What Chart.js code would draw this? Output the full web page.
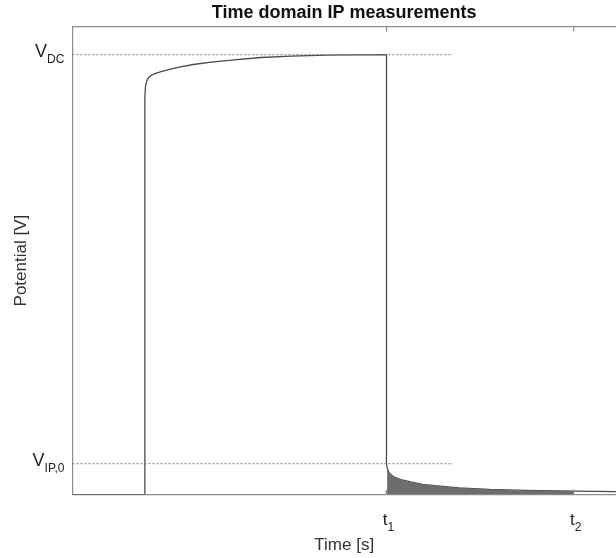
<!DOCTYPE html>
<html>
<head>
<meta charset="utf-8">
<script src="https://cdn.jsdelivr.net/npm/chart.js@4"></script>
<style>
  html, body { margin: 0; padding: 0; background: #fff; overflow: hidden; }
</style>
</head>
<body>
<canvas id="ipChart" width="616" height="558"></canvas>
<script>
// on-time: current switched on at 0.6 s, potential builds up towards V_DC
var onTime      = [0, 0.6, 0.6,  0.605, 0.615, 0.63,  0.66,  0.7,   0.78,  0.875, 1.0,   1.15,  1.34,  1.56,  1.81,  2.1,   2.6];
var onPotential = [0, 0,   0.85, 0.872, 0.884, 0.891, 0.897, 0.901, 0.907, 0.913, 0.919, 0.924, 0.929, 0.934, 0.937, 0.939, 0.94];
// off-time: current switched off at t1, IP decay
var offTime      = [2.6,  2.6,   2.605, 2.615, 2.63,  2.66,  2.72,  2.8,   2.9,   3.0,   3.2,    3.45,  3.75,  4.15,   4.5];
var offPotential = [0.94, 0.066, 0.058, 0.05,  0.044, 0.038, 0.032, 0.027, 0.022, 0.019, 0.0145, 0.011, 0.009, 0.0075, 0.0064];

var t1 = 2.6, t2 = 4.15;          // integration window
var vDC = 0.94, vIP0 = 0.066;     // reference levels
var refLineEnd = 3.15;            // dotted level lines stop here
var xTicks = [t1, t2];
var xTickLabels = [['t', '1'], ['t', '2']];
var yTicks = [vIP0, vDC];
var yTickLabels = [['V', 'IP,0'], ['V', 'DC']];

function pts(xs, ys) {
  return xs.map(function (x, i) { return { x: x, y: ys[i] }; });
}

var trace = pts(onTime.concat(offTime), onPotential.concat(offPotential));
var windowPts = pts(offTime, offPotential).filter(function (p, i) {
  return i > 1 && p.x >= t1 && p.x <= t2;
});

// draws the box top, inside ticks and the subscripted tick labels
var decorations = {
  id: 'decorations',
  afterDraw: function (chart) {
    var c = chart.ctx, a = chart.chartArea;
    var xs = chart.scales.x, ys = chart.scales.y;
    c.save();
    c.strokeStyle = '#8c8c8c';
    c.lineWidth = 1.2;
    c.beginPath();
    c.moveTo(a.left, a.top);
    c.lineTo(a.right, a.top);
    xTicks.forEach(function (v) {
      var px = xs.getPixelForValue(v);
      c.moveTo(px, a.top); c.lineTo(px, a.top + 5);
      c.moveTo(px, a.bottom); c.lineTo(px, a.bottom - 5);
    });
    c.stroke();

    c.fillStyle = '#222';
    c.textBaseline = 'alphabetic';
    xTicks.forEach(function (v, i) {
      var px = xs.getPixelForValue(v);
      var lab = xTickLabels[i];
      c.font = '17px "Liberation Sans", Arial, sans-serif';
      var w = c.measureText(lab[0]).width;
      c.textAlign = 'left';
      c.fillText(lab[0], px - w + 1, a.bottom + 30);
      c.font = '12px "Liberation Sans", Arial, sans-serif';
      c.fillText(lab[1], px + 1, a.bottom + 36);
    });
    yTicks.forEach(function (v, i) {
      var py = ys.getPixelForValue(v);
      var lab = yTickLabels[i];
      c.font = '12px "Liberation Sans", Arial, sans-serif';
      var ws = c.measureText(lab[1]).width;
      c.font = '18px "Liberation Sans", Arial, sans-serif';
      var wm = c.measureText(lab[0]).width;
      var right = a.left - 8;
      c.textAlign = 'left';
      c.fillText(lab[0], right - ws - wm, py + 2);
      c.font = '12px "Liberation Sans", Arial, sans-serif';
      c.fillText(lab[1], right - ws, py + 8);
    });
    c.restore();
  }
};

var ctx = document.getElementById('ipChart').getContext('2d');
var chart = new Chart(ctx, {
  type: 'line',
  data: {
    datasets: [
      {
        label: 'Integration window',
        data: windowPts,
        borderWidth: 0,
        backgroundColor: '#6d6d6d',
        fill: 'origin',
        pointRadius: 0,
        tension: 0
      },
      {
        label: 'V_DC',
        data: pts([0, refLineEnd], [vDC, vDC]),
        borderColor: '#7a7a7a',
        borderWidth: 1,
        borderDash: [2, 2],
        pointRadius: 0
      },
      {
        label: 'V_IP,0',
        data: pts([0, refLineEnd], [vIP0, vIP0]),
        borderColor: '#7a7a7a',
        borderWidth: 1,
        borderDash: [2, 2],
        pointRadius: 0
      },
      {
        label: 'Potential',
        data: trace,
        borderColor: '#4a4a4a',
        borderWidth: 1.3,
        pointRadius: 0,
        fill: false,
        tension: 0
      }
    ]
  },
  options: {
    responsive: false,
    animation: false,
    layout: { padding: { left: 10, right: 0, top: 0, bottom: 2 } },
    plugins: {
      legend: { display: false },
      tooltip: { enabled: false },
      title: {
        display: true,
        text: 'Time domain IP measurements',
        fullSize: false,
        color: '#111',
        font: { family: '"Liberation Sans", Arial, sans-serif', size: 18, weight: 'bold' },
        padding: { top: 2, bottom: 3 }
      }
    },
    scales: {
      x: {
        type: 'linear',
        min: 0,
        max: 4.5,
        grid: { display: false },
        border: { display: true, color: '#8c8c8c', width: 1.2 },
        ticks: { display: false },
        title: {
          display: true,
          text: 'Time [s]',
          color: '#333',
          font: { family: '"Liberation Sans", Arial, sans-serif', size: 17 },
          padding: { top: 33, bottom: 0 }
        }
      },
      y: {
        min: 0,
        max: 1,
        grid: { display: false },
        border: { display: true, color: '#8c8c8c', width: 1.2 },
        ticks: { display: false },
        title: {
          display: true,
          text: 'Potential [V]',
          color: '#333',
          font: { family: '"Liberation Sans", Arial, sans-serif', size: 17 },
          padding: { top: 1, bottom: 33 }
        }
      }
    }
  },
  plugins: [decorations]
});
</script>
</body>
</html>
